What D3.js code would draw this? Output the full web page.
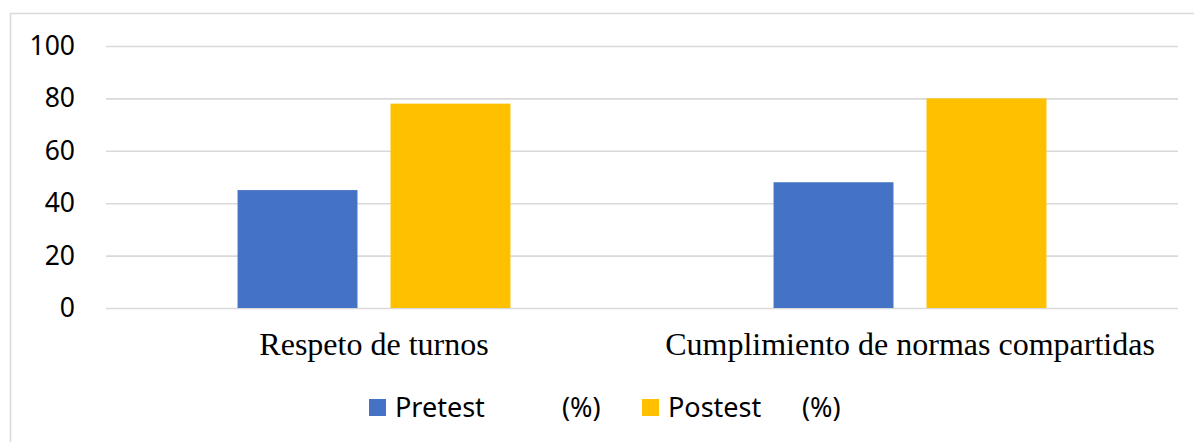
<!DOCTYPE html>
<html>
<head>
<meta charset="utf-8">
<script src="https://cdnjs.cloudflare.com/ajax/libs/d3/7.8.5/d3.min.js"></script>
<style>
  html, body { margin: 0; padding: 0; background: #fff; }
  svg { display: block; }
</style>
</head>
<body>
<div id="chart"></div>
<script>
// chart data
var categories = ['Respeto de turnos', 'Cumplimiento de normas compartidas'];
var seriesNames = ['Pretest', 'Postest'];
var seriesUnits = ['(%)', '(%)'];
var pretestValues = [45, 48];
var postestValues = [78, 80];
var yTicks = [0, 20, 40, 60, 80, 100];
var colors = ['#4472c4', '#ffc000'];

(function drawChart(){
    'use strict';
    var width = 1194, height = 442;
    var plot = {left: 106, right: 1178, top: 46, bottom: 308};

    var svg = d3.select('#chart').append('svg')
        .attr('width', width)
        .attr('height', height);

    // outer frame (only top and left visible in the crop)
    svg.append('rect')
        .attr('x', 10.5).attr('y', 13.5)
        .attr('width', width + 20).attr('height', height + 20)
        .attr('fill', '#fff')
        .attr('stroke', '#d9d9d9')
        .attr('stroke-width', 1.5);

    var y = d3.scaleLinear().domain([0, 100]).range([plot.bottom, plot.top]);
    var x0 = d3.scaleBand().domain(categories).range([plot.left, plot.right]);
    var x1 = d3.scaleBand().domain(seriesNames).range([0, x0.bandwidth()])
        .paddingInner(0.216).paddingOuter(0.86);

    // gridlines + tick labels
    var yAxis = d3.axisLeft(y).tickValues(yTicks)
        .tickSize(-(plot.right - plot.left)).tickPadding(31);
    var gy = svg.append('g')
        .attr('transform', 'translate(' + plot.left + ',0)')
        .call(yAxis);
    gy.select('.domain').remove();
    gy.selectAll('.tick line')
        .attr('stroke', '#d9d9d9')
        .attr('stroke-width', 1.6);
    gy.selectAll('.tick text')
        .attr('fill', '#000')
        .style('font-family', '"Noto Sans", sans-serif')
        .style('font-size', '26.5px');

    var rows = categories.map(function(c, i){
        return {category: c, values: [pretestValues[i], postestValues[i]]};
    });

    var groups = svg.append('g').selectAll('g')
        .data(rows).join('g')
        .attr('transform', function(d){ return 'translate(' + x0(d.category) + ',0)'; });

    groups.selectAll('rect')
        .data(function(d){
            return d.values.map(function(v, j){ return {series: seriesNames[j], value: v, idx: j}; });
        })
        .join('rect')
        .attr('x', function(d){ return x1(d.series); })
        .attr('y', function(d){ return y(d.value); })
        .attr('width', x1.bandwidth())
        .attr('height', function(d){ return y(0) - y(d.value); })
        .attr('fill', function(d){ return colors[d.idx]; });

    // category labels
    svg.append('g').selectAll('text')
        .data(categories).join('text')
        .attr('x', function(d){ return x0(d) + x0.bandwidth() / 2; })
        .attr('y', 355)
        .attr('text-anchor', 'middle')
        .attr('fill', '#000')
        .style('font-family', '"Liberation Serif", "Times New Roman", serif')
        .style('font-size', '32px')
        .text(function(d){ return d; });

    // legend
    var legendX = [369, 642];
    var unitX = [562, 802];
    var legend = svg.append('g').selectAll('g')
        .data(seriesNames).join('g');
    legend.append('rect')
        .attr('x', function(d, i){ return legendX[i]; })
        .attr('y', 399)
        .attr('width', 17).attr('height', 17)
        .attr('fill', function(d, i){ return colors[i]; });
    legend.append('text')
        .attr('x', function(d, i){ return legendX[i] + 26; })
        .attr('y', 417)
        .attr('fill', '#000')
        .style('font-family', '"Noto Sans", sans-serif')
        .style('font-size', '27px')
        .text(function(d){ return d; });
    legend.append('text')
        .attr('x', function(d, i){ return unitX[i]; })
        .attr('y', 417)
        .attr('fill', '#000')
        .style('font-family', '"Noto Sans", sans-serif')
        .style('font-size', '27px')
        .text(function(d, i){ return seriesUnits[i]; });
})();
</script>
</body>
</html>
